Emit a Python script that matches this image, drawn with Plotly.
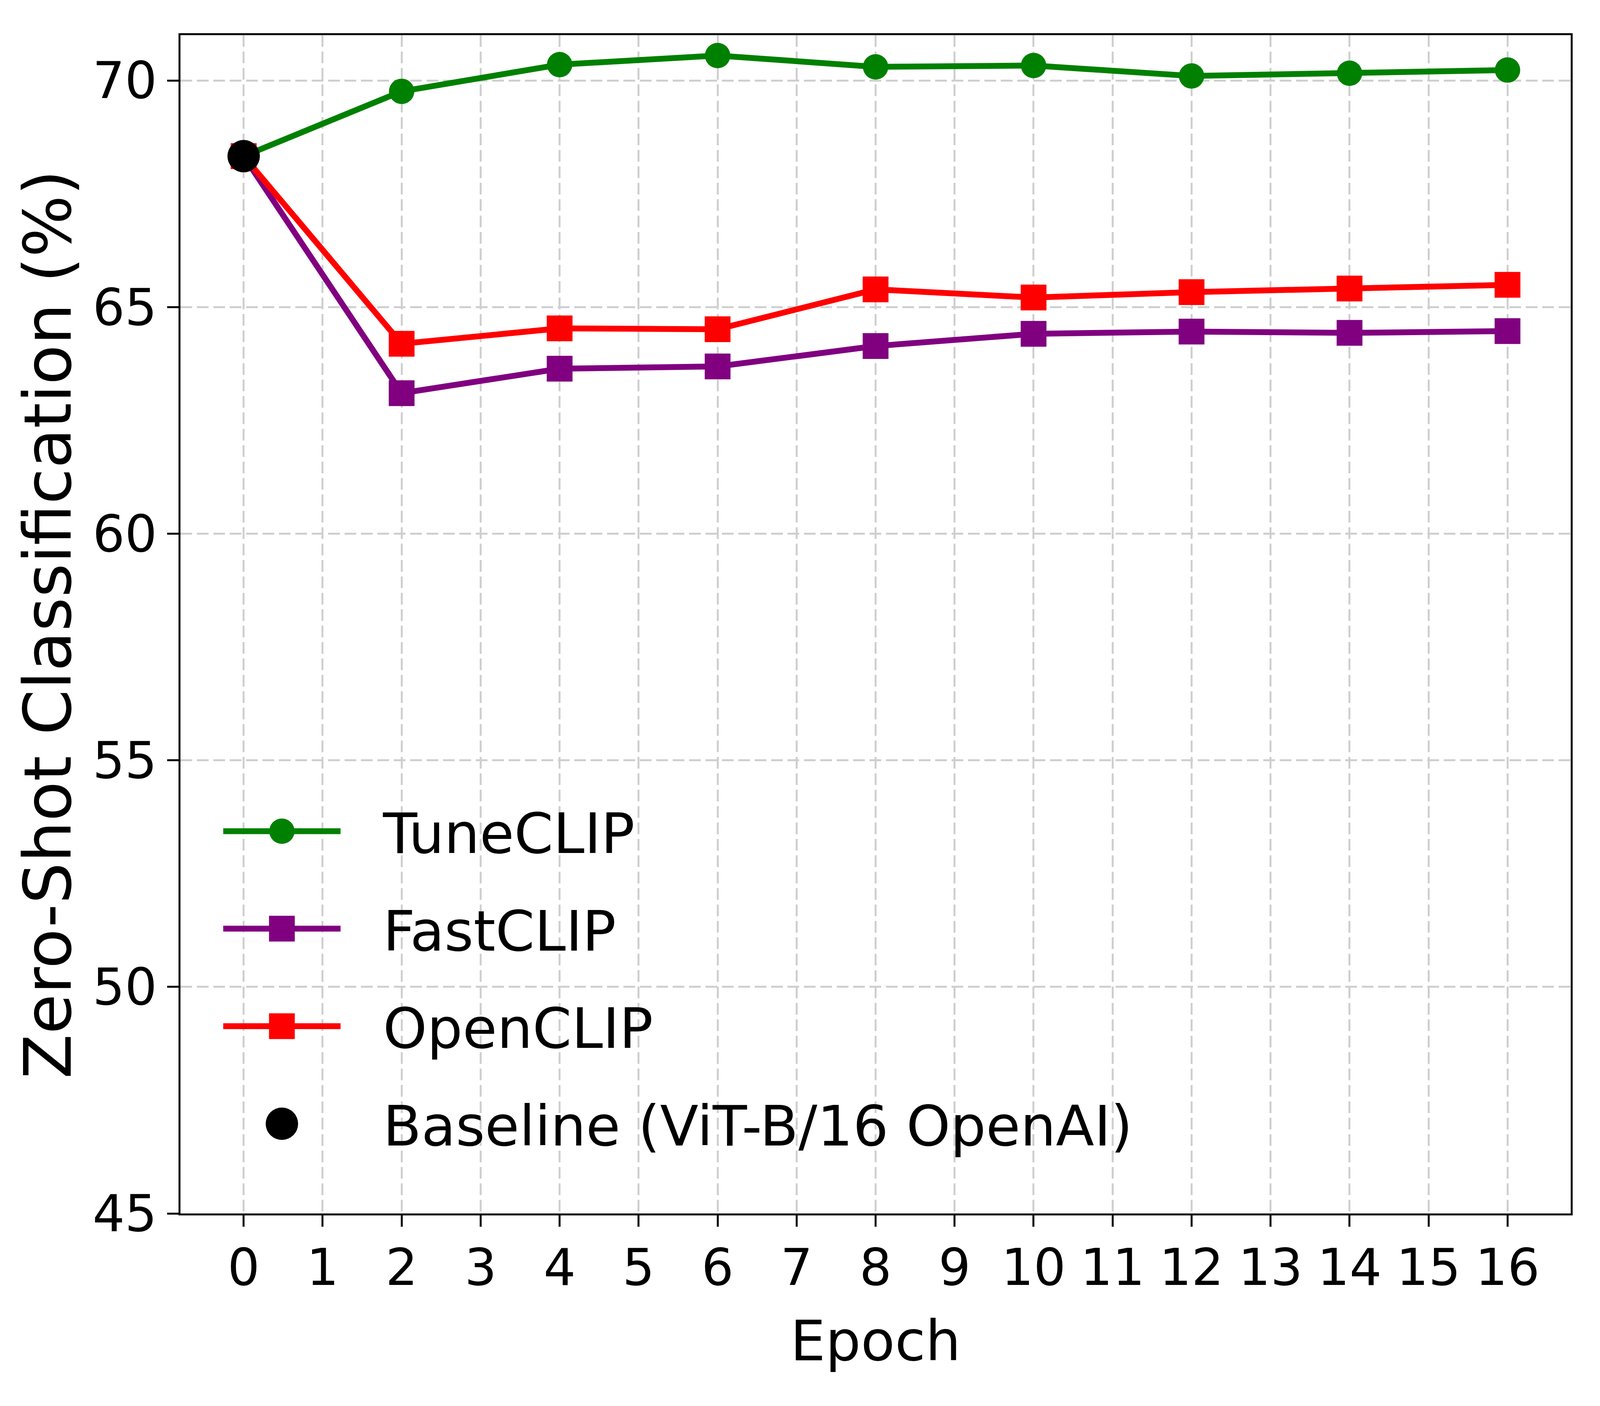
import json
import plotly.graph_objects as go

# ---- data ----
epochs = [0, 2, 4, 6, 8, 10, 12, 14, 16]
tuneclip = [68.33, 69.76, 70.35, 70.55, 70.30, 70.33, 70.10, 70.16, 70.23]
fastclip = [68.33, 63.10, 63.64, 63.69, 64.14, 64.41, 64.46, 64.43, 64.47]
openclip = [68.33, 64.19, 64.53, 64.51, 65.39, 65.21, 65.33, 65.41, 65.49]
baseline_epoch = [0]
baseline_value = [68.33]

x_ticks = list(range(0, 17))
y_ticks = [45, 50, 55, 60, 65, 70]

# ---- styling (design frame 4800 x 3600) ----
FONT = "DejaVu Sans"
W0, H0 = 4800, 3600
ML, MR, MT, MB = 541, 88, 90, 493
LINE_W = 15
TICK_FONT, TITLE_FONT, LEG_FONT = 152, 167, 168
SYMBOLS = ["circle", "square", "square", "circle"]
SIZES = [65, 66, 66, 83]
LEG_LINE_START = 681      # x of legend key line start (design px)
LEG_LINE_LEN = 352        # legend key line length (design px)
LEG_TEXT_OFFSET = 483     # text start minus key start (design px)
LEG_FIRST_ROW = 2124      # y centre of first legend row (design px)
LEG_ROW_STEP = 251        # legend row spacing (design px)
XLAB_SHIFT = -15          # x tick label standoff (design px)
XTITLE_CENTER = 3449      # y centre of x title (design px, calibrated)
XLAB_CENTER = 3246        # y centre of x tick labels (design px, calibrated)
YTITLE_CENTER = 194       # x centre of y title (design px, calibrated)

fig = go.Figure()
fig.add_trace(go.Scatter(
    x=epochs, y=tuneclip, name="TuneCLIP", mode="lines+markers",
    line=dict(color="green", width=LINE_W),
    marker=dict(symbol=SYMBOLS[0], size=SIZES[0], color="green"),
    legendgroup="a"))
fig.add_trace(go.Scatter(
    x=epochs, y=fastclip, name="FastCLIP", mode="lines+markers",
    line=dict(color="purple", width=LINE_W),
    marker=dict(symbol=SYMBOLS[1], size=SIZES[1], color="purple"),
    legendgroup="b"))
fig.add_trace(go.Scatter(
    x=epochs, y=openclip, name="OpenCLIP", mode="lines+markers",
    line=dict(color="red", width=LINE_W),
    marker=dict(symbol=SYMBOLS[2], size=SIZES[2], color="red"),
    legendgroup="c"))
fig.add_trace(go.Scatter(
    x=baseline_epoch, y=baseline_value, name="Baseline (ViT-B/16 OpenAI)",
    mode="markers",
    marker=dict(symbol=SYMBOLS[3], size=SIZES[3], color="black"),
    legendgroup="d"))

axis_common = dict(
    showline=True, linecolor="black", linewidth=5, mirror=True,
    ticks="outside", ticklen=29, tickwidth=5, tickcolor="black",
    showgrid=True, gridcolor="#cfcfcf", gridwidth=5, griddash="30px,12px",
    zeroline=False,
    tickfont=dict(family=FONT, size=TICK_FONT, color="black"),
)

fig.update_xaxes(
    range=[-0.8, 16.8], tickvals=x_ticks, ticktext=[str(t) for t in x_ticks],
    ticklabelstandoff=XLAB_SHIFT,
    title=dict(text="Epoch", font=dict(family=FONT, size=TITLE_FONT, color="black"), standoff=40),
    **axis_common)
fig.update_yaxes(
    range=[45, 71], tickvals=y_ticks, ticktext=[str(t) for t in y_ticks],
    title=dict(text="Zero-Shot Classification (%)", font=dict(family=FONT, size=TITLE_FONT, color="black"), standoff=20),
    **axis_common)

fig.update_layout(
    width=W0, height=H0,
    margin=dict(l=ML, r=MR, t=MT, b=MB),
    paper_bgcolor="white", plot_bgcolor="white",
    font=dict(family=FONT, color="black"),
    showlegend=True,
    legend=dict(
        x=0.03, y=0.366, xanchor="left", yanchor="top",
        bgcolor="rgba(255,255,255,0)", borderwidth=0,
        font=dict(family=FONT, size=LEG_FONT, color="black"),
        itemwidth=LEG_TEXT_OFFSET - 8, tracegroupgap=30,
    ),
)

# Fit the figure to the actual browser viewport, keeping the reference's
# proportions, and draw matplotlib-sized legend keys.
post = """
(function(){
  var gd = document.getElementById('{plot_id}');
  var C = __CFG__;
  document.documentElement.style.margin = '0';
  document.body.style.margin = '0';
  document.documentElement.style.overflow = 'hidden';
  document.body.style.overflow = 'hidden';
  var W = window.innerWidth, H = window.innerHeight;
  var sx = W / C.W0, sy = H / C.H0;
  var pl = C.ML * sx, pw = W - pl - C.MR * sx;
  var pt = C.MT * sy, ph = H - pt - C.MB * sy;
  var ftx = C.TICK * sx;          // horizontal text scales with width
  var fxt = C.TITLE * sx;
  var fyt = C.TITLE * sy;         // vertical title scales with height
  var fl = C.LEGF * sx;
  var rowH = 1.33 * fl;
  var legTop = C.FIRST_ROW * sy - 0.75 * fl + 12;
  var ylabLeft = pl - 83 - 1.272 * ftx;
  var upd = {
    width: W, height: H,
    'margin.l': pl, 'margin.r': C.MR * sx, 'margin.t': pt, 'margin.b': C.MB * sy,
    'xaxis.tickfont.size': ftx, 'yaxis.tickfont.size': ftx,
    'xaxis.title.font.size': fxt, 'yaxis.title.font.size': fyt,
    'xaxis.ticklabelstandoff': Math.round(C.XSHIFT + 0.36 * (C.TICK - ftx)),
    'xaxis.title.standoff': Math.max(0, Math.round(C.XT * sy - (C.XL * sy + 0.36 * ftx + 40 + 0.36 * fxt))),
    'yaxis.title.standoff': Math.max(0, Math.round(ylabLeft - C.YT * sx - 62)),
    'legend.font.size': fl,
    'legend.tracegroupgap': Math.max(0, C.STEP * sy - rowH),
    'legend.x': (C.LSTART * sx - 15 - pl) / pw,
    'legend.y': (pt + ph - legTop) / ph,
    'legend.itemwidth': Math.max(30, Math.round(C.TOFF * sx - 8))
  };
  function keys(){
    var items = gd.querySelectorAll('g.legend g.traces');
    var x0 = null;
    items.forEach(function(tr){
      var ln = tr.querySelector('g.legendlines path');
      if (ln && x0 === null) { x0 = ln.getBBox().x; }
    });
    if (x0 === null) { x0 = 5; }
    var L = C.LLEN * sx;
    items.forEach(function(tr, i){
      var ln = tr.querySelector('g.legendlines path');
      if (ln) {
        ln.setAttribute('d', 'M' + x0 + ',0h' + L);
        ln.style.strokeWidth = C.LW + 'px';
      }
      var p = tr.querySelector('g.legendpoints path.scatterpts');
      if (p) {
        var r = C.SIZES[i] / 2, d;
        if (C.SYMS[i] === 'square') {
          d = 'M' + r + ',' + r + 'H' + (-r) + 'V' + (-r) + 'H' + r + 'Z';
        } else {
          d = 'M' + r + ',0A' + r + ',' + r + ' 0 1,1 0,' + (-r) +
              'A' + r + ',' + r + ' 0 0,1 ' + r + ',0Z';
        }
        p.setAttribute('d', d);
        p.setAttribute('transform', 'translate(' + (x0 + L / 2) + ',0)');
      }
    });
  }
  Plotly.relayout(gd, upd).then(keys);
})();
"""
cfg = dict(W0=W0, H0=H0, ML=ML, MR=MR, MT=MT, MB=MB, LW=LINE_W,
           TICK=TICK_FONT, TITLE=TITLE_FONT, LEGF=LEG_FONT,
           SIZES=SIZES, SYMS=SYMBOLS, LSTART=LEG_LINE_START, LLEN=LEG_LINE_LEN,
           TOFF=LEG_TEXT_OFFSET, FIRST_ROW=LEG_FIRST_ROW, STEP=LEG_ROW_STEP,
           XSHIFT=XLAB_SHIFT, XL=XLAB_CENTER, XT=XTITLE_CENTER, YT=YTITLE_CENTER)
post = post.replace("__CFG__", json.dumps(cfg))

fig.write_html("out.html", post_script=post, config={"displayModeBar": False})
